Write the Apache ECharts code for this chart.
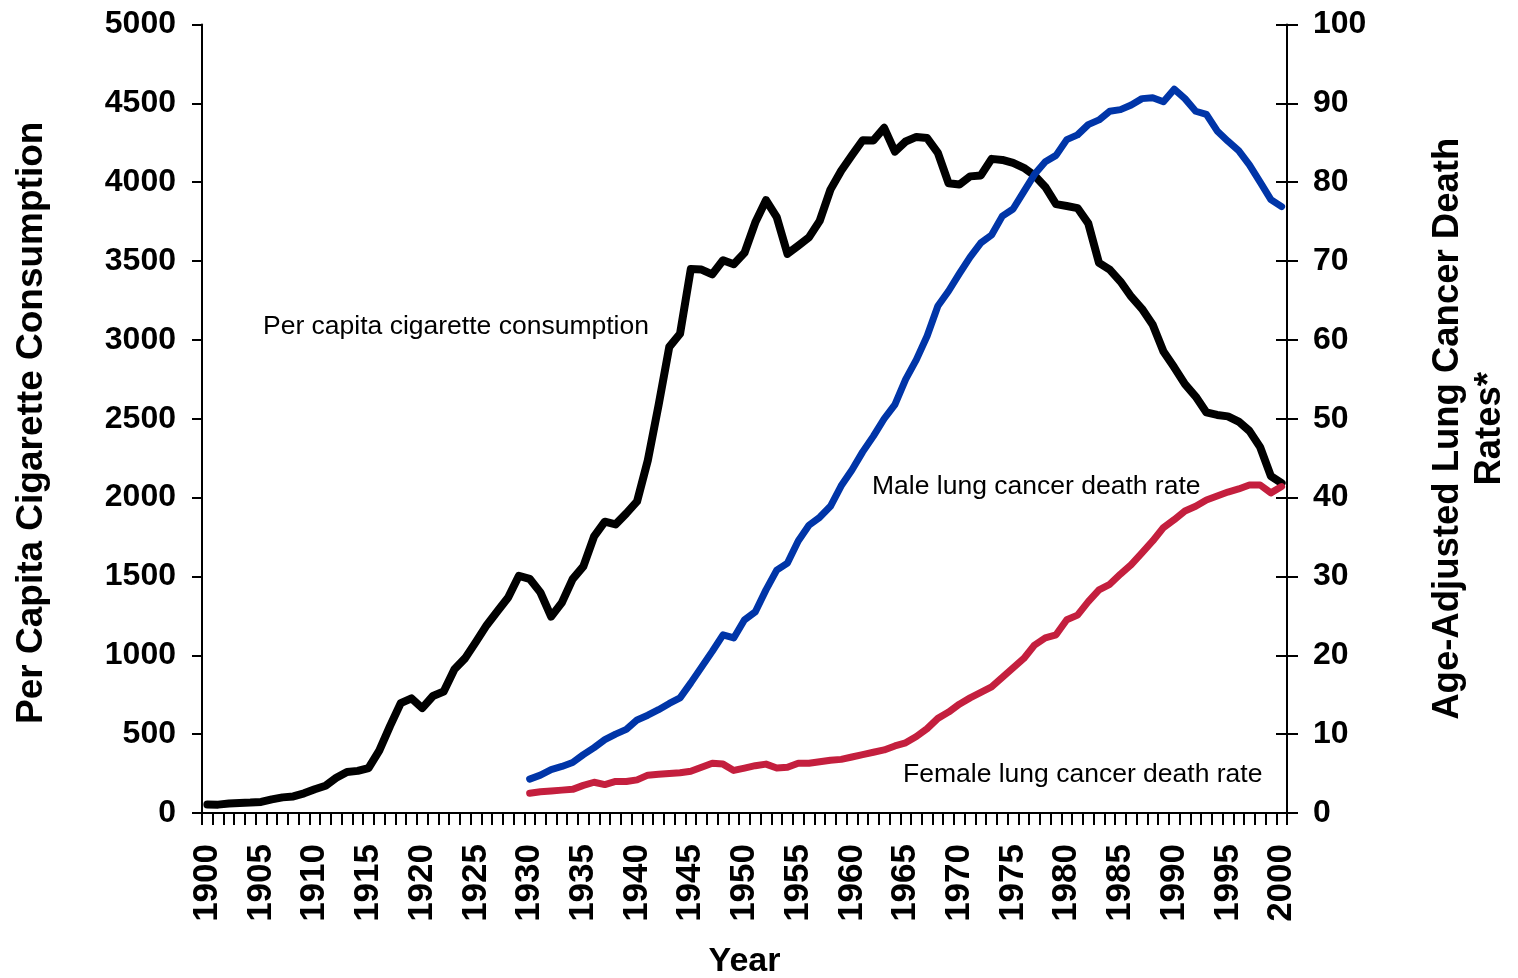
<!DOCTYPE html>
<html>
<head>
<meta charset="utf-8">
<script src="https://cdn.jsdelivr.net/npm/echarts@6/dist/echarts.min.js"></script>
<style>
html,body{margin:0;padding:0;background:#fff;}
#chart{width:1518px;height:978px;}
</style>
</head>
<body>
<div id="chart"></div>
<script>
// Categories: years 1900-2000
var years = [];
for (var y = 1900; y <= 2000; y++) years.push(String(y));

// Per capita cigarette consumption, 1900-2000 (left axis)
var cigarettes = [54,53,60,64,66,70,86,99,105,125,
  151,173,223,260,267,285,395,551,697,727,
  665,742,770,911,982,1085,1191,1279,1366,1504,
  1485,1399,1245,1334,1483,1564,1754,1847,1830,1900,
  1976,2236,2585,2956,3039,3449,3446,3416,3505,3480,
  3552,3744,3886,3778,3546,3597,3650,3755,3953,4073,
  4171,4266,4265,4345,4194,4258,4287,4280,4186,3993,
  3985,4037,4043,4148,4141,4122,4091,4043,3970,3861,
  3849,3836,3739,3488,3446,3370,3274,3197,3096,2926,
  2826,2720,2641,2540,2524,2515,2482,2423,2320,2136,2092];

// Age-adjusted lung cancer death rates, 1930-2000 (right axis)
var rateStartYear = 1930;
var maleRate = [4.3,4.8,5.5,5.9,6.4,7.4,8.3,9.3,10.0,10.6,
  11.8,12.4,13.1,13.9,14.6,16.5,18.5,20.5,22.6,22.2,
  24.5,25.5,28.3,30.8,31.7,34.5,36.5,37.5,38.9,41.5,
  43.5,45.8,47.8,50.0,51.8,55.0,57.5,60.5,64.3,66.2,
  68.4,70.5,72.3,73.3,75.7,76.6,78.8,81.0,82.6,83.4,
  85.4,86.0,87.3,87.9,89.0,89.2,89.8,90.6,90.7,90.2,
  91.8,90.6,89.0,88.6,86.5,85.2,84.0,82.2,80.0,77.8,76.9];
var femaleRate = [2.5,2.7,2.8,2.9,3.0,3.5,3.9,3.6,4.0,4.0,
  4.2,4.8,4.9,5.0,5.1,5.3,5.8,6.3,6.2,5.4,
  5.7,6.0,6.2,5.7,5.8,6.3,6.3,6.5,6.7,6.8,
  7.1,7.4,7.7,8.0,8.5,8.9,9.7,10.7,12.0,12.8,
  13.8,14.6,15.3,16.0,17.2,18.4,19.6,21.3,22.2,22.6,
  24.5,25.1,26.8,28.3,29.0,30.3,31.5,33.0,34.5,36.2,
  37.2,38.3,38.9,39.7,40.2,40.7,41.1,41.6,41.6,40.6,41.4];

var seriesNames = ['Per capita cigarette consumption','Male lung cancer death rate','Female lung cancer death rate'];

function toPairs(arr, start) {
  return arr.map(function (v, i) { return [String(start + i), v]; });
}

var FONT = '"Liberation Sans", Arial, sans-serif';
var chart = echarts.init(document.getElementById('chart'), null, {renderer: 'canvas'});

var option = {
  animation: false,
  backgroundColor: '#ffffff',
  grid: {left: 202, right: 231, top: 24.5, bottom: 165, containLabel: false, outerBoundsMode: 'none'},
  xAxis: {
    type: 'category',
    data: years,
    boundaryGap: true,
    name: 'Year',
    nameLocation: 'middle',
    nameGap: 132,
    nameTextStyle: {fontFamily: FONT, fontWeight: 'bold', fontSize: 34, color: '#000', verticalAlign: 'top'},
    axisLine: {lineStyle: {color: '#000', width: 2}},
    axisTick: {show: true, interval: 0, length: 12, lineStyle: {color: '#000', width: 2}},
    axisLabel: {interval: 4, rotate: 90, margin: 31, fontFamily: FONT, fontWeight: 'bold', fontSize: 35, color: '#000'},
    splitLine: {show: false}
  },
  yAxis: [
    {
      type: 'value', position: 'left', min: 0, max: 5000, interval: 500,
      name: 'Per Capita Cigarette Consumption',
      nameLocation: 'middle', nameRotate: 90, nameGap: 152,
      nameTextStyle: {fontFamily: FONT, fontWeight: 'bold', fontSize: 37, color: '#000', padding: [0, 8, 0, 0]},
      axisLine: {show: true, lineStyle: {color: '#000', width: 2}},
      axisTick: {show: true, length: 10, lineStyle: {color: '#000', width: 2}},
      axisLabel: {margin: 26, fontFamily: FONT, fontWeight: 'bold', fontSize: 32, color: '#000',
        formatter: function (v) { return String(v); }},
      splitLine: {show: false}
    },
    {
      type: 'value', position: 'right', min: 0, max: 100, interval: 10,
      name: 'Age-Adjusted Lung Cancer Death\nRates*',
      nameLocation: 'middle', nameRotate: 90, nameGap: 140,
      nameTextStyle: {fontFamily: FONT, fontWeight: 'bold', fontSize: 36.5, color: '#000', lineHeight: 42, align: 'center', padding: [0, 20, 0, 0]},
      axisLine: {show: true, lineStyle: {color: '#000', width: 2}},
      axisTick: {show: true, length: 11, lineStyle: {color: '#000', width: 2}},
      axisLabel: {margin: 26, fontFamily: FONT, fontWeight: 'bold', fontSize: 32, color: '#000'},
      splitLine: {show: false}
    },
    {
      type: 'value', position: 'right', min: 0, max: 100, interval: 10,
      axisLine: {show: false},
      axisTick: {show: true, inside: true, length: 11, lineStyle: {color: '#000', width: 2}},
      axisLabel: {show: false},
      splitLine: {show: false}
    }
  ],
  series: [
    {
      name: seriesNames[0], type: 'line', yAxisIndex: 0,
      data: toPairs(cigarettes, 1900),
      showSymbol: false, symbol: 'none',
      lineStyle: {color: '#000000', width: 8, join: 'round', cap: 'round'},
      z: 3
    },
    {
      name: seriesNames[1], type: 'line', yAxisIndex: 1,
      data: toPairs(maleRate, rateStartYear),
      showSymbol: false, symbol: 'none',
      lineStyle: {color: '#0035a8', width: 7, join: 'round', cap: 'round'},
      z: 4
    },
    {
      name: seriesNames[2], type: 'line', yAxisIndex: 1,
      data: toPairs(femaleRate, rateStartYear),
      showSymbol: false, symbol: 'none',
      lineStyle: {color: '#c41f3e', width: 7, join: 'round', cap: 'round'},
      z: 4
    }
  ],
  graphic: [
    {type: 'text', left: 263, top: 313, z: 10, style: {text: seriesNames[0], font: '26.5px ' + FONT, fill: '#000'}},
    {type: 'text', left: 872, top: 473, z: 10, style: {text: seriesNames[1], font: '26.5px ' + FONT, fill: '#000'}},
    {type: 'text', left: 903, top: 761, z: 10, style: {text: seriesNames[2], font: '26.5px ' + FONT, fill: '#000'}}
  ]
};
chart.setOption(option);
</script>
</body>
</html>
